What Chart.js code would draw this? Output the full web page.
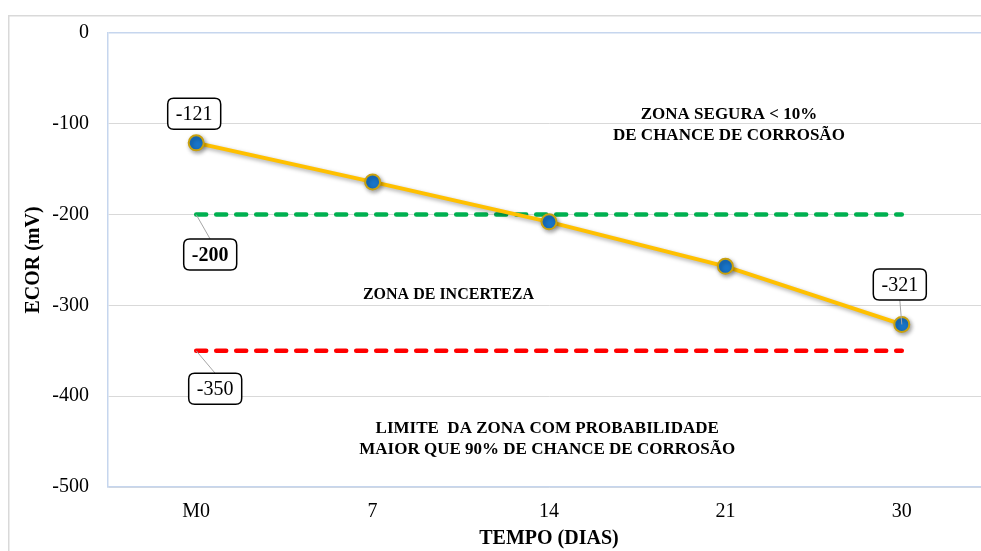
<!DOCTYPE html>
<html>
<head>
<meta charset="utf-8">
<script src="https://cdn.jsdelivr.net/npm/chart.js@4/dist/chart.umd.min.js"></script>
<style>
  html, body { margin: 0; padding: 0; background: #fff; overflow: hidden; }
  #wrap { position: absolute; left: 0; top: 0; width: 1000px; height: 551px; }
</style>
</head>
<body>
<div id="wrap"><canvas id="c"></canvas></div>
<script>
// Potencial de corrosão ao longo do tempo
const categories = ['M0', '7', '14', '21', '30'];
const ecor = [-121, -164, -208, -257, -321];
const limiteSeguro = [-200, -200, -200, -200, -200];
const limiteCorrosao = [-350, -350, -350, -350, -350];
const yTicks = [0, -100, -200, -300, -400, -500];

const SERIF = '"Liberation Serif", "Times New Roman", serif';

// Caixas de rótulo: série, índice do ponto, negrito e deslocamento da caixa em px
const labelBoxes = [
  { data: ecor, i: 0, bold: false, dx: -2, dy: -29, leader: false },
  { data: ecor, i: 4, bold: false, dx: -2, dy: -40, leader: true },
  { data: limiteSeguro, i: 0, bold: true, dx: 14, dy: 40, leader: true },
  { data: limiteCorrosao, i: 0, bold: false, dx: 19, dy: 38, leader: true }
];

// Textos das zonas: posição em índice de categoria e valor do eixo
const zoneTexts = [
  { text: 'ZONA SEGURA < 10%', x: 3.02, y: -90, size: 17 },
  { text: 'DE CHANCE DE CORROSÃO', x: 3.02, y: -113, size: 17 },
  { text: 'ZONA DE INCERTEZA', x: 1.43, y: -288, size: 16 },
  { text: 'LIMITE  DA ZONA COM PROBABILIDADE', x: 1.99, y: -436, size: 17 },
  { text: 'MAIOR QUE 90% DE CHANCE DE CORROSÃO', x: 1.99, y: -459, size: 17 }
];

function roundRect(ctx, x, y, w, h, r) {
  ctx.beginPath();
  ctx.moveTo(x + r, y);
  ctx.lineTo(x + w - r, y);
  ctx.quadraticCurveTo(x + w, y, x + w, y + r);
  ctx.lineTo(x + w, y + h - r);
  ctx.quadraticCurveTo(x + w, y + h, x + w - r, y + h);
  ctx.lineTo(x + r, y + h);
  ctx.quadraticCurveTo(x, y + h, x, y + h - r);
  ctx.lineTo(x, y + r);
  ctx.quadraticCurveTo(x, y, x + r, y);
  ctx.closePath();
}

const framePlugin = {
  id: 'frame',
  beforeDraw(chart) {
    const ctx = chart.ctx;
    ctx.save();
    ctx.fillStyle = '#ffffff';
    ctx.fillRect(0, 0, chart.width, chart.height);
    ctx.strokeStyle = '#d9d9d9';
    ctx.lineWidth = 1.5;
    ctx.strokeRect(8.75, 15.75, 2000, 2000);
    ctx.restore();
  }
};

const shadowPlugin = {
  id: 'shadow',
  beforeDatasetDraw(chart, args) {
    if (args.index !== 0) return;
    const ctx = chart.ctx;
    ctx.save();
    ctx.shadowColor = 'rgba(0,0,0,0.35)';
    ctx.shadowBlur = 4;
    ctx.shadowOffsetX = 1.5;
    ctx.shadowOffsetY = 2;
  },
  afterDatasetDraw(chart, args) {
    if (args.index !== 0) return;
    chart.ctx.restore();
  }
};

const annotPlugin = {
  id: 'annot',
  afterDatasetsDraw(chart) {
    const ctx = chart.ctx;
    const xs = chart.scales.x, ys = chart.scales.y;
    ctx.save();
    ctx.fillStyle = '#000';
    ctx.textAlign = 'center';
    ctx.textBaseline = 'middle';
    zoneTexts.forEach(t => {
      ctx.font = 'bold ' + t.size + 'px ' + SERIF;
      ctx.fillText(t.text, xs.getPixelForValue(t.x), ys.getPixelForValue(t.y));
    });
    labelBoxes.forEach(b => {
      const v = b.data[b.i];
      const px = xs.getPixelForValue(b.i);
      const py = ys.getPixelForValue(v);
      const cx = px + b.dx, cy = py + b.dy;
      const w = 53, h = 31;
      if (b.leader) {
        ctx.strokeStyle = '#a6a6a6';
        ctx.lineWidth = 1;
        ctx.beginPath();
        ctx.moveTo(px, py);
        ctx.lineTo(cx, b.dy < 0 ? cy + h / 2 : cy - h / 2);
        ctx.stroke();
      }
      roundRect(ctx, cx - w / 2, cy - h / 2, w, h, 6);
      ctx.fillStyle = '#fff';
      ctx.fill();
      ctx.strokeStyle = '#000';
      ctx.lineWidth = 1.5;
      ctx.stroke();
      ctx.fillStyle = '#000';
      ctx.font = (b.bold ? 'bold ' : '') + '20px ' + SERIF;
      ctx.fillText(String(v), cx, cy + 1);
    });
    ctx.restore();
  }
};

new Chart(document.getElementById('c'), {
  type: 'line',
  data: {
    labels: categories,
    datasets: [
      {
        label: 'ECOR',
        data: ecor,
        borderColor: '#FFC000',
        borderWidth: 4,
        pointRadius: 7.5,
        pointHoverRadius: 7.5,
        pointBackgroundColor: '#1874C8',
        pointBorderColor: '#C9A10E',
        pointBorderWidth: 2,
        tension: 0,
        order: 0
      },
      {
        label: '-200',
        data: limiteSeguro,
        borderColor: '#00B050',
        borderWidth: 4.5,
        borderDash: [10, 10],
        borderCapStyle: 'round',
        pointRadius: 0,
        order: 1
      },
      {
        label: '-350',
        data: limiteCorrosao,
        borderColor: '#FF0000',
        borderWidth: 4.5,
        borderDash: [10, 10],
        borderCapStyle: 'round',
        pointRadius: 0,
        order: 2
      }
    ]
  },
  options: {
    responsive: true,
    maintainAspectRatio: false,
    animation: false,
    devicePixelRatio: 1,
    layout: { padding: { left: 0, top: 33, right: 10, bottom: 0 } },
    plugins: { legend: { display: false }, tooltip: { enabled: false } },
    scales: {
      x: {
        offset: true,
        grid: { display: false, drawTicks: false },
        border: { color: '#c6d6ee', width: 1.5 },
        ticks: { color: '#000', font: { family: SERIF, size: 20 }, padding: 13 },
        title: {
          display: true, text: 'TEMPO (DIAS)', color: '#000',
          font: { family: SERIF, size: 20, weight: 'bold' }, padding: { top: 0, bottom: 0 }
        },
        afterFit(scale) { scale.height = 64; }
      },
      y: {
        min: -500, max: 0,
        afterBuildTicks(scale) { scale.ticks = yTicks.map(v => ({ value: v })); },
        grid: {
          drawTicks: false,
          color: ctx => (ctx.tick && ctx.tick.value === 0 ? '#c6d6ee' : '#d9d9d9'),
          lineWidth: ctx => (ctx.tick && ctx.tick.value === 0 ? 1.5 : 1)
        },
        border: { color: '#c6d6ee', width: 1.5 },
        ticks: { color: '#000', font: { family: SERIF, size: 20 }, padding: 19 },
        title: {
          display: true, text: 'ECOR (mV)', color: '#000',
          font: { family: SERIF, size: 20, weight: 'bold' }, padding: { top: 22, bottom: 0 }
        },
        afterFit(scale) { scale.width = 108; }
      }
    }
  },
  plugins: [framePlugin, shadowPlugin, annotPlugin]
});
</script>
</body>
</html>
